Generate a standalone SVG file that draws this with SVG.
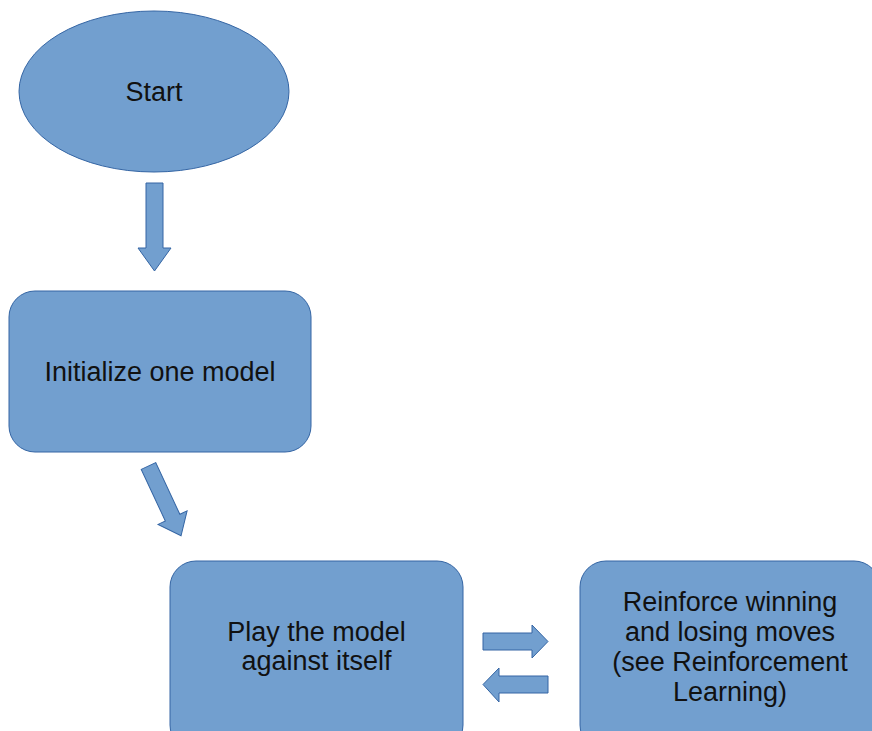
<svg xmlns="http://www.w3.org/2000/svg" width="872" height="731" viewBox="0 0 872 731">
<style>
.shape{fill:#729fcf;stroke:#3465a4;stroke-width:1}
.lbl{font-family:"Liberation Sans",Arial,sans-serif;font-size:27px;fill:#111111;text-anchor:middle}
</style>
<rect width="872" height="731" fill="#ffffff"/>
<g id="connectors">
<polygon class="shape" points="146,183 163,183 163,248 171,248 154.5,271 138,248 146,248"/>
<polygon class="shape" transform="translate(148.5,466) rotate(-25)" points="-8,0 8,0 8,57 16,57 0,77 -16,57 -8,57"/>
<polygon class="shape" points="483,633 532,633 532,625 548,641.5 532,658 532,650 483,650"/>
<polygon class="shape" points="548,676 499,676 499,668 483,684.5 499,702 499,693 548,693"/>
</g>
<g id="start">
<ellipse class="shape" cx="154" cy="91.5" rx="135" ry="80.5"/>
<text class="lbl" x="154" y="101">Start</text>
</g>
<g id="init">
<rect class="shape" x="9" y="291" width="302" height="161" rx="26" ry="26"/>
<text class="lbl" x="160" y="381">Initialize one model</text>
</g>
<g id="play">
<rect class="shape" x="170" y="561" width="293" height="190" rx="26" ry="26"/>
<text class="lbl" x="316.5" y="641">Play the model</text>
<text class="lbl" x="316.5" y="670">against itself</text>
</g>
<g id="reinforce">
<rect class="shape" x="580" y="561" width="300" height="190" rx="26" ry="26"/>
<text class="lbl" x="730" y="611">Reinforce winning</text>
<text class="lbl" x="730" y="641">and losing moves</text>
<text class="lbl" x="730" y="671">(see Reinforcement</text>
<text class="lbl" x="730" y="701">Learning)</text>
</g>
</svg>
